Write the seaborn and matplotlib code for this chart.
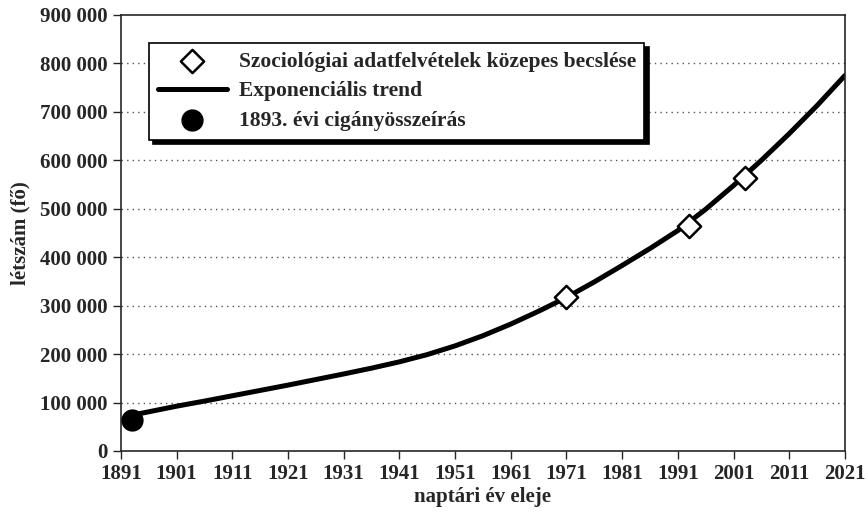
import matplotlib
matplotlib.use("Agg")
import matplotlib.pyplot as plt
import matplotlib.ticker as mticker
import pandas as pd
import seaborn as sns

# Data
trend_years = [1893, 1901, 1906, 1911, 1916, 1921, 1926, 1931, 1936, 1941, 1946, 1951, 1956,
               1961, 1966, 1971, 1976, 1981, 1986, 1991, 1996, 2001, 2006, 2011, 2016, 2021]
trend_values = [74000, 92500, 103000, 114000, 125000, 136000, 147500, 159000, 171000, 184000,
                199000, 217000, 238000, 262000, 288500, 317000, 349000, 383000, 418000,
                455000, 499000, 548000, 600000, 655000, 713000, 775000]
survey_years = [1971, 1993, 2003]
survey_values = [317000, 464000, 564000]
census_years = [1893]
census_values = [64000]

labels = ["Szociológiai adatfelvételek közepes becslése",
          "Exponenciális trend",
          "1893. évi cigányösszeírás"]
x_ticks = list(range(1891, 2022, 10))
y_ticks = list(range(0, 900001, 100000))

sns.set_style("ticks")
plt.rcParams['font.family'] = ['Liberation Serif', 'DejaVu Serif']
plt.rcParams['font.weight'] = 'bold'

df_trend = pd.DataFrame({'year': trend_years, 'value': trend_values})
df_survey = pd.DataFrame({'year': survey_years, 'value': survey_values})
df_census = pd.DataFrame({'year': census_years, 'value': census_values})

fig = plt.figure(figsize=(8.68, 5.16), dpi=100)
ax = fig.add_axes([0.1394, 0.126, 0.834, 0.845])

# dotted grid
for v in y_ticks[1:-1]:
    ax.axhline(v, color='#555555', linestyle=(0, (1, 3)), linewidth=1, zorder=0)

sns.lineplot(data=df_trend, x='year', y='value', ax=ax, color='black', linewidth=3.6,
             label=labels[1], zorder=2)
sns.scatterplot(data=df_survey, x='year', y='value', ax=ax, marker='D', s=140,
                facecolor='white', edgecolor='black', linewidth=1.8, label=labels[0], zorder=3)
sns.scatterplot(data=df_census, x='year', y='value', ax=ax, marker='o', s=220,
                color='black', edgecolor='black', label=labels[2], zorder=3)

ax.set_xlim(1891, 2021)
ax.set_ylim(0, 900000)
ax.set_xticks(x_ticks)
ax.set_yticks(y_ticks)
ax.yaxis.set_major_formatter(mticker.FuncFormatter(lambda v, p: f"{int(v):,}".replace(",", " ")))
ax.tick_params(axis='both', labelsize=15, length=6, width=1, direction='out')
for sp in ax.spines.values():
    sp.set_linewidth(1.2)
    sp.set_visible(True)

ax.set_xlabel("naptári év eleje", fontsize=15, fontweight='bold', labelpad=2)
ax.set_ylabel("létszám (fő)", fontsize=15, fontweight='bold', labelpad=7)

handles, hl = ax.get_legend_handles_labels()
order = [hl.index(l) for l in labels]
leg = ax.legend([handles[i] for i in order], [hl[i] for i in order],
                loc='upper left', bbox_to_anchor=(0.039, 0.936), borderaxespad=0,
                fontsize=15.5, frameon=True, fancybox=False, framealpha=1,
                edgecolor='black', handlelength=3.2, handletextpad=0.55,
                labelspacing=0.45, borderpad=0.4,
                shadow={'color': 'black', 'alpha': 1, 'ox': 3, 'oy': -3})
leg.get_frame().set_linewidth(1.2)

fig.savefig("out.png", dpi=100)
